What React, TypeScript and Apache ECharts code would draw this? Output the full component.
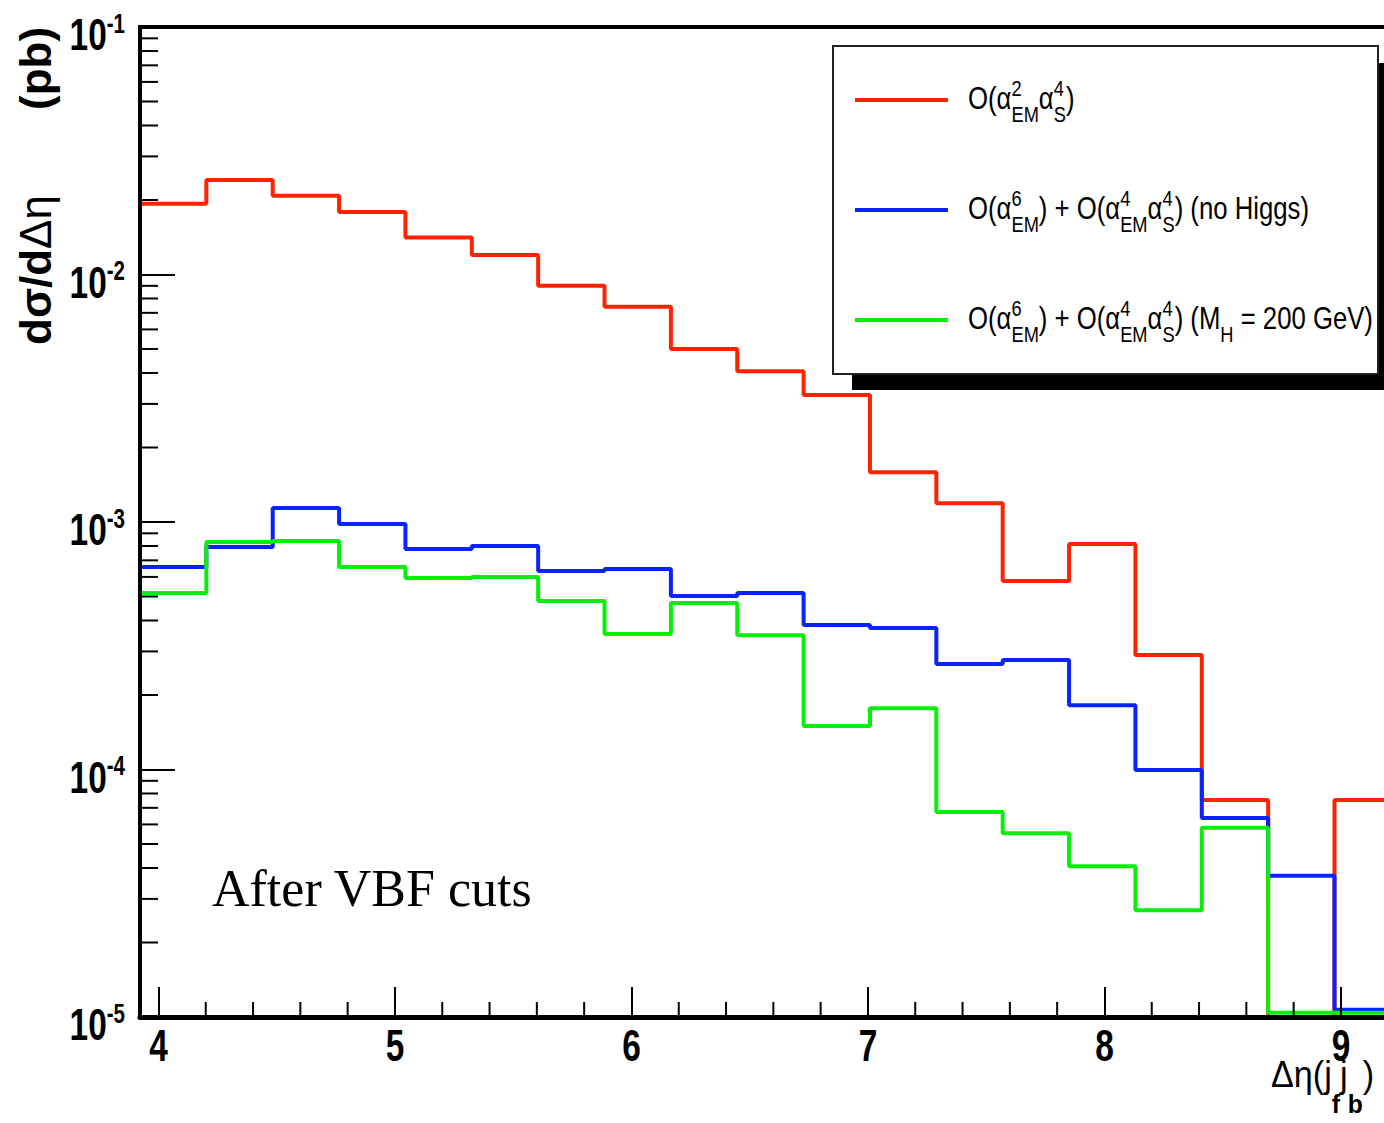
import React, { useEffect, useRef } from "react";
import * as echarts from "echarts";

// ---- data ----
const BIN_START = 3.922;
const BIN_WIDTH = 0.2806;
const X_MAX = 9.534;
const Y_MIN = 1e-5;
const Y_MAX = 1e-1;

const redValues = [0.0193, 0.0241, 0.0208, 0.0179, 0.0141, 0.012, 0.009, 0.0074, 0.005, 0.00407, 0.00326, 0.00159, 0.00119, 0.000578, 0.000815, 0.00029, 0.0000753, 0.00001, 0.0000753];
const blueValues = [0.000658, 0.000792, 0.00114, 0.000982, 0.000778, 0.0008, 0.000634, 0.000646, 0.000502, 0.000516, 0.000384, 0.000373, 0.000267, 0.000277, 0.000182, 0.0000995, 0.0000637, 0.0000372, 0.0000107];
const greenValues = [0.000516, 0.00083, 0.000838, 0.000658, 0.000594, 0.0006, 0.00048, 0.000353, 0.000471, 0.000349, 0.00015, 0.000177, 0.0000673, 0.0000553, 0.0000407, 0.000027, 0.0000581, 0.0000104, 0.0000104];

const xMajorTicks = [4, 5, 6, 7, 8, 9];
const xMinorTicks = [4.2, 4.4, 4.6, 4.8, 5.2, 5.4, 5.6, 5.8, 6.2, 6.4, 6.6, 6.8, 7.2, 7.4, 7.6, 7.8, 8.2, 8.4, 8.6, 8.8, 9.2, 9.4];
const yDecades = [1e-5, 1e-4, 1e-3, 1e-2, 1e-1];
const yMinorMantissas = [2, 3, 4, 5, 6, 7, 8, 9];
const yMinorDecades = [1e-5, 1e-4, 1e-3, 1e-2];

const seriesNames = ["O(α²EM α⁴S)", "O(α⁶EM) + O(α⁴EM α⁴S) (no Higgs)", "O(α⁶EM) + O(α⁴EM α⁴S) (MH = 200 GeV)"];
const seriesColors = ["#ff2200", "#0a22ff", "#08ee08"];

const SANS = "'Liberation Sans', Arial, sans-serif";
const SERIF = "'Liberation Serif', 'Times New Roman', serif";

type Seg = { t?: string; sup?: string; sub?: string };

let measureCtx: CanvasRenderingContext2D | null = null;
function measure(text: string, size: number, family: string, weight: string) {
  if (!measureCtx) measureCtx = document.createElement("canvas").getContext("2d");
  if (!measureCtx) return text.length * size * 0.5;
  measureCtx.font = `${weight} ${size}px ${family}`;
  return measureCtx.measureText(text).width;
}

type ScriptOpts = {
  base: number;
  script: number;
  family: string;
  weight: string;
  scriptWeight: string;
  supDy: number;
  subDy: number;
  fill: string;
  baseWeights?: (string | undefined)[];
};

function buildScripted(segs: Seg[], o: ScriptOpts) {
  const children: any[] = [];
  let x = 0;
  segs.forEach((s, i) => {
    if (s.t !== undefined) {
      const w = (o.baseWeights && o.baseWeights[i]) || o.weight;
      children.push({
        type: "text",
        x,
        y: 0,
        style: { text: s.t, fontSize: o.base, fontFamily: o.family, fontWeight: w, fill: o.fill, align: "left", verticalAlign: "middle" },
      });
      x += measure(s.t, o.base, o.family, w);
    } else {
      let wmax = 0;
      if (s.sup) {
        children.push({
          type: "text",
          x,
          y: o.supDy,
          style: { text: s.sup, fontSize: o.script, fontFamily: o.family, fontWeight: o.scriptWeight, fill: o.fill, align: "left", verticalAlign: "middle" },
        });
        wmax = Math.max(wmax, measure(s.sup, o.script, o.family, o.scriptWeight));
      }
      if (s.sub) {
        children.push({
          type: "text",
          x,
          y: o.subDy,
          style: { text: s.sub, fontSize: o.script, fontFamily: o.family, fontWeight: o.scriptWeight, fill: o.fill, align: "left", verticalAlign: "middle" },
        });
        wmax = Math.max(wmax, measure(s.sub, o.script, o.family, o.scriptWeight));
      }
      x += wmax;
    }
  });
  return { children, width: x };
}

const legendSegs: Seg[][] = [
  [{ t: "O(α" }, { sup: "2", sub: "EM" }, { t: "α" }, { sup: "4", sub: "S" }, { t: ")" }],
  [{ t: "O(α" }, { sup: "6", sub: "EM" }, { t: ") + O(α" }, { sup: "4", sub: "EM" }, { t: "α" }, { sup: "4", sub: "S" }, { t: ") (no Higgs)" }],
  [{ t: "O(α" }, { sup: "6", sub: "EM" }, { t: ") + O(α" }, { sup: "4", sub: "EM" }, { t: "α" }, { sup: "4", sub: "S" }, { t: ") (M" }, { sub: "H" }, { t: " = 200 GeV)" }],
];

function stepData(values: number[]) {
  const pts: number[][] = values.map((v, i) => [BIN_START + i * BIN_WIDTH, v]);
  pts.push([BIN_START + values.length * BIN_WIDTH, values[values.length - 1]]);
  return pts;
}

export default function App() {
  const ref = useRef<HTMLDivElement>(null);
  useEffect(() => {
    if (!ref.current) return;
    const chart = echarts.init(ref.current, undefined, { renderer: "svg" });

    const PX_PER_UNIT = 236.5;
    const gridW = (X_MAX - BIN_START) * PX_PER_UNIT;

    const yMinor: number[][] = [];
    yMinorDecades.forEach((d) => yMinorMantissas.forEach((m) => yMinor.push([BIN_START, m * d])));

    const option: any = {
      animation: false,
      backgroundColor: "#fff",
      grid: {
        left: 140,
        top: 27,
        width: gridW,
        height: 990,
        show: true,
        borderColor: "#000",
        borderWidth: 4,
        backgroundColor: "transparent",
      },
      xAxis: {
        type: "value",
        min: BIN_START,
        max: X_MAX,
        z: 5,
        axisLine: { show: true, onZero: false, lineStyle: { color: "#000", width: 5 } },
        axisTick: { show: true, inside: true, length: 30, lineStyle: { color: "#000", width: 2 }, customValues: xMajorTicks },
        axisLabel: { show: false },
        splitLine: { show: false },
      },
      yAxis: {
        type: "log",
        logBase: 10,
        min: Y_MIN,
        max: Y_MAX,
        z: 5,
        axisLine: { show: true, lineStyle: { color: "#000", width: 4 } },
        axisTick: { show: true, inside: true, length: 35, lineStyle: { color: "#000", width: 2 } },
        axisLabel: { show: false },
        splitLine: { show: false },
        minorTick: { show: false },
      },
      series: [
        ...[redValues, blueValues, greenValues].map((vals, i) => ({
          name: seriesNames[i],
          type: "line",
          step: "end",
          data: stepData(vals),
          showSymbol: false,
          symbol: "none",
          lineStyle: { color: seriesColors[i], width: 4 },
          itemStyle: { color: seriesColors[i] },
          z: 2,
          silent: true,
        })),
        {
          type: "custom",
          silent: true,
          z: 6,
          clip: false,
          data: yMinor,
          renderItem: (params: any, api: any) => {
            const p = api.coord([api.value(0), api.value(1)]);
            return { type: "line", shape: { x1: p[0], y1: p[1], x2: p[0] + 18, y2: p[1] }, style: { stroke: "#000", lineWidth: 2 } };
          },
        },
        {
          type: "custom",
          silent: true,
          z: 6,
          clip: false,
          data: xMinorTicks.map((x) => [x, Y_MIN]),
          renderItem: (params: any, api: any) => {
            const p = api.coord([api.value(0), api.value(1)]);
            return { type: "line", shape: { x1: p[0], y1: p[1], x2: p[0], y2: p[1] - 15 }, style: { stroke: "#000", lineWidth: 2 } };
          },
        },
      ],
    };

    chart.setOption(option);

    // ---- graphics (tick labels placed via the axes' scales, legend, titles) ----
    const graphics: any[] = [];

    const LBL_SCALE = 0.76;
    yDecades.forEach((d) => {
      const p = chart.convertToPixel({ gridIndex: 0 }, [BIN_START, d]) as number[];
      const exp = String(Math.round(Math.log10(d)));
      const built = buildScripted([{ t: "10" }, { sup: exp }], {
        base: 44,
        script: 27,
        family: SANS,
        weight: "bold",
        scriptWeight: "bold",
        supDy: -12,
        subDy: 0,
        fill: "#000",
      });
      graphics.push({
        type: "group",
        x: p[0] - 15 - built.width * LBL_SCALE,
        y: p[1] + 8,
        scaleX: LBL_SCALE,
        children: built.children,
      });
    });

    xMajorTicks.forEach((v) => {
      const p = chart.convertToPixel({ gridIndex: 0 }, [v, Y_MIN]) as number[];
      graphics.push({
        type: "text",
        x: p[0],
        y: p[1] + 29,
        scaleX: LBL_SCALE,
        style: { text: String(v), fontSize: 44, fontFamily: SANS, fontWeight: "bold", fill: "#000", align: "center", verticalAlign: "middle" },
      });
    });

    // legend
    const legendY = [100, 210, 320];
    graphics.push({ type: "rect", shape: { x: 852, y: 63, width: 545, height: 327 }, style: { fill: "#000" } });
    graphics.push({ type: "rect", shape: { x: 833, y: 46, width: 545, height: 328 }, style: { fill: "#fff", stroke: "#222", lineWidth: 2 } });
    legendY.forEach((y, i) => {
      graphics.push({
        type: "line",
        shape: { x1: 855, y1: y, x2: 948, y2: y },
        style: { stroke: seriesColors[i], lineWidth: 4 },
      });
      const built = buildScripted(legendSegs[i], {
        base: 31,
        script: 22,
        family: SANS,
        weight: "normal",
        scriptWeight: "normal",
        supDy: -10,
        subDy: 16,
        fill: "#000",
      });
      graphics.push({ type: "group", x: 968, y: y - 2, scaleX: 0.83, children: built.children });
    });

    // y title
    const yT = buildScripted([{ t: "dσ/d" }, { t: "Δη" }], {
      base: 44,
      script: 24,
      family: SANS,
      weight: "bold",
      scriptWeight: "bold",
      supDy: 0,
      subDy: 0,
      fill: "#000",
      baseWeights: ["bold", "normal"],
    });
    graphics.push({
      type: "group",
      x: 35,
      y: 345,
      rotation: Math.PI / 2,
      children: [
        ...yT.children,
        {
          type: "text",
          x: 235,
          y: 0,
          style: { text: "(pb)", fontSize: 44, fontFamily: SANS, fontWeight: "bold", fill: "#000", align: "left", verticalAlign: "middle" },
        },
      ],
    });

    // x title
    const xT = buildScripted([{ t: "Δη(j" }, { sub: "f" }, { t: "j" }, { sub: "b" }, { t: ")" }], {
      base: 36,
      script: 26,
      family: SANS,
      weight: "normal",
      scriptWeight: "bold",
      supDy: -10,
      subDy: 30,
      fill: "#000",
    });
    graphics.push({ type: "group", x: 1271, y: 1074, scaleX: 0.95, children: xT.children });

    graphics.push({
      type: "text",
      x: 212,
      y: 888,
      style: { text: "After VBF cuts", fontSize: 52, fontFamily: SERIF, fill: "#000", align: "left", verticalAlign: "middle" },
    });

    chart.setOption({ graphic: graphics });
    return () => chart.dispose();
  }, []);

  return (
    <div style={{ position: "fixed", left: 0, top: 0, width: 1384, height: 1123, overflow: "hidden", background: "#fff" }}>
      <div ref={ref} style={{ width: 1500, height: 1123 }} />
    </div>
  );
}
